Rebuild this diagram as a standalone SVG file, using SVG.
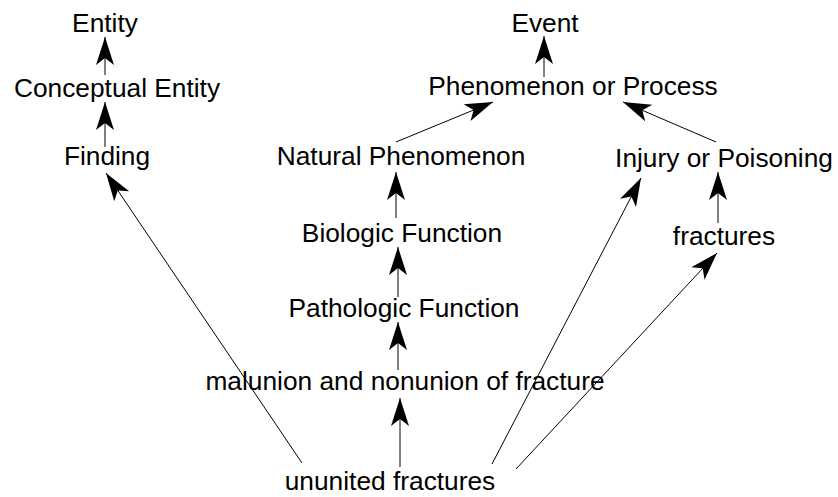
<svg xmlns="http://www.w3.org/2000/svg" width="838" height="497" viewBox="0 0 838 497">
<style>
text{font-family:"Liberation Sans",Arial,sans-serif;font-size:26.3px;fill:#000;text-anchor:middle}
.e line{stroke:#000;stroke-width:1;fill:none;marker-end:url(#ah)}
</style>
<defs>
<marker id="ah" markerUnits="userSpaceOnUse" viewBox="-30 -10 32 20" refX="0" refY="0" markerWidth="32" markerHeight="20" orient="auto">
<path d="M0,0 L-28,-9 L-21,0 L-28,9 Z" fill="#000"/>
</marker>
</defs>
<rect width="838" height="497" fill="#fff"/>
<g class="e" id="connectors">
<line x1="105" y1="75" x2="105" y2="37"/>
<line x1="105" y1="147" x2="105" y2="102"/>
<line x1="302" y1="463" x2="106" y2="173"/>
<line x1="544" y1="77" x2="544" y2="36"/>
<line x1="396" y1="142" x2="493" y2="102"/>
<line x1="716" y1="142" x2="623" y2="102"/>
<line x1="718" y1="223" x2="718" y2="172"/>
<line x1="492" y1="464" x2="641" y2="178"/>
<line x1="516" y1="469" x2="717" y2="253"/>
<line x1="396" y1="218" x2="396" y2="172"/>
<line x1="398" y1="297" x2="398" y2="247"/>
<line x1="398" y1="370" x2="398" y2="322"/>
<line x1="400" y1="467" x2="400" y2="398"/>
</g>
<g id="n-entity"><text x="105" y="32">Entity</text></g>
<g id="n-conceptual"><text x="117" y="97">Conceptual Entity</text></g>
<g id="n-finding"><text x="107" y="165">Finding</text></g>
<g id="n-event"><text x="545" y="32">Event</text></g>
<g id="n-phenomenon"><text x="573" y="95">Phenomenon or Process</text></g>
<g id="n-natural"><text x="401" y="165">Natural Phenomenon</text></g>
<g id="n-injury"><text x="724" y="167">Injury or Poisoning</text></g>
<g id="n-biologic"><text x="402" y="242">Biologic Function</text></g>
<g id="n-fractures"><text x="724" y="245">fractures</text></g>
<g id="n-pathologic"><text x="404" y="317">Pathologic Function</text></g>
<g id="n-malunion"><text x="405" y="390">malunion and nonunion of fracture</text></g>
<g id="n-ununited"><text x="390" y="490">ununited fractures</text></g>
</svg>
